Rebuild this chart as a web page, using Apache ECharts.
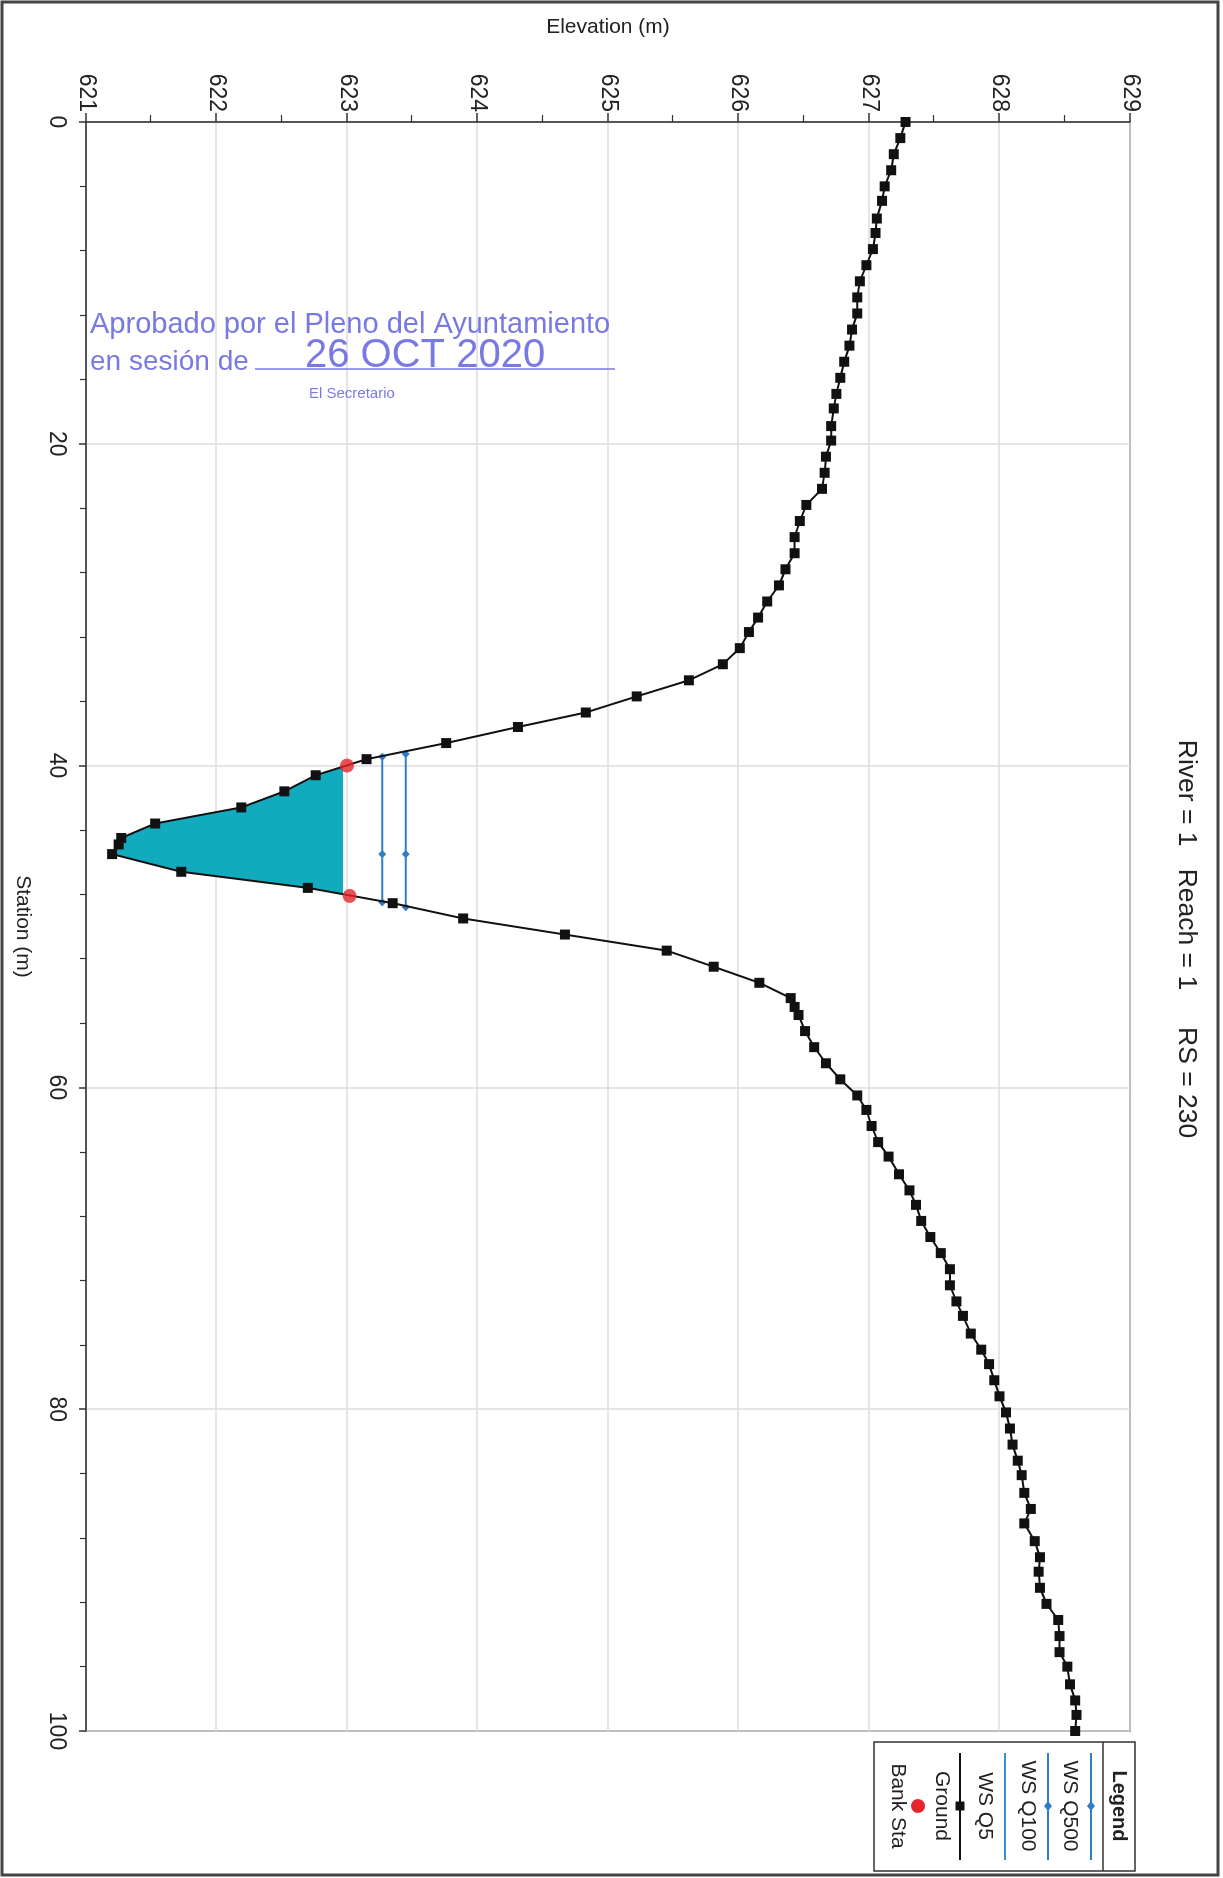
<!DOCTYPE html>
<html><head><meta charset="utf-8">
<script src="https://cdn.jsdelivr.net/npm/echarts@6/dist/echarts.min.js"></script>
<style>
html,body{margin:0;padding:0;background:#fff;width:1223px;height:1878px;overflow:hidden}
#rot{position:absolute;left:0;top:0;width:1878px;height:1223px;transform-origin:0 0;transform:translate(1223px,0) rotate(90deg);}
#chart{width:1878px;height:1223px}
</style></head><body>
<div id="rot"><div id="chart"></div></div>
<script>
// ---- data ----
const titleText = 'River = 1   Reach = 1     RS = 230';
const stationTicks = [0, 20, 40, 60, 80, 100];
const elevationTicks = [621, 622, 623, 624, 625, 626, 627, 628, 629];

const groundStation = [0.0,1.0,2.0,3.0,4.0,4.9,6.0,6.9,7.9,8.9,9.9,10.9,11.9,12.9,13.9,14.9,15.9,16.9,17.8,18.9,19.8,20.8,21.8,22.8,23.8,24.8,25.8,26.8,27.8,28.8,29.8,30.8,31.7,32.7,33.7,34.7,35.7,36.7,37.6,38.6,39.6,40.6,41.6,42.6,43.6,44.5,44.9,45.5,46.6,47.6,48.55,49.5,50.5,51.5,52.5,53.5,54.45,55.0,55.5,56.5,57.5,58.5,59.5,60.5,61.4,62.4,63.4,64.3,65.4,66.4,67.3,68.3,69.3,70.3,71.3,72.3,73.3,74.2,75.3,76.3,77.2,78.2,79.2,80.2,81.2,82.2,83.2,84.1,85.2,86.2,87.1,88.2,89.2,90.1,91.1,92.1,93.1,94.1,95.1,96.0,97.1,98.1,99.0,100.0];
const groundElevation = [627.28,627.24,627.19,627.17,627.12,627.10,627.06,627.05,627.03,626.98,626.93,626.91,626.91,626.87,626.85,626.81,626.78,626.75,626.73,626.71,626.71,626.67,626.66,626.64,626.52,626.47,626.43,626.43,626.36,626.31,626.22,626.15,626.08,626.01,625.88,625.62,625.22,624.83,624.31,623.76,623.15,622.76,622.52,622.19,621.53,621.27,621.25,621.20,621.73,622.70,623.35,623.89,624.67,625.45,625.81,626.16,626.40,626.43,626.46,626.51,626.58,626.67,626.78,626.91,626.98,627.02,627.07,627.15,627.23,627.31,627.36,627.40,627.47,627.55,627.62,627.62,627.67,627.72,627.78,627.86,627.92,627.96,628.00,628.05,628.08,628.10,628.14,628.17,628.19,628.24,628.19,628.27,628.31,628.30,628.31,628.36,628.45,628.46,628.46,628.52,628.54,628.58,628.59,628.58];

const wsQ5Elevation = 622.97;
const wsQ5Station = [40.06, 48.0];
const wsQ100Elevation = 623.27;
const wsQ100Station = [39.45, 45.5, 48.5];
const wsQ500Elevation = 623.45;
const wsQ500Station = [39.28, 45.5, 48.8];
const bankStation = [40.0, 48.1];
const bankElevation = [623.0, 623.02];

const legendNames = ['WS Q500', 'WS Q100', 'WS Q5', 'Ground', 'Bank Sta'];
const stampLines = ['Aprobado por el Pleno del Ayuntamiento', 'en sesión de', '26 OCT 2020', 'El Secretario'];

// ---- build ----
const FONT = '"Liberation Sans", Arial, Helvetica, sans-serif';
const TXT = '#222';
const WSBLUE = '#2f7fc8';
const ground = groundStation.map((s, i) => [s, groundElevation[i]]);
const q5Fill = [[wsQ5Station[0], wsQ5Elevation]]
  .concat(ground.filter(p => p[0] > wsQ5Station[0] && p[0] < wsQ5Station[1]))
  .concat([[wsQ5Station[1], wsQ5Elevation]]);
const q100 = wsQ100Station.map(s => [s, wsQ100Elevation]);
const q500 = wsQ500Station.map(s => [s, wsQ500Elevation]);
const banks = bankStation.map((s, i) => [s, bankElevation[i]]);

const chart = echarts.init(document.getElementById('chart'), null, {renderer: 'canvas', width: 1878, height: 1223});

function diamond(cx, cy, r, color) {
  return {type: 'polygon', shape: {points: [[cx - r, cy], [cx, cy - r * 0.8], [cx + r, cy], [cx, cy + r * 0.8]]}, style: {fill: color}, silent: true, z: 102};
}
const LX = 1806;
const legendLineY = [132, 175, 218, 263, 305];
const legendTextY = [153, 195, 238, 281, 325];
const legendGraphics = [
  {type: 'rect', shape: {x: 1742, y: 88, width: 129, height: 261}, style: {fill: '#fff', stroke: '#333', lineWidth: 1.5}, silent: true, z: 100},
  {type: 'line', shape: {x1: 1742, y1: 120, x2: 1871, y2: 120}, style: {stroke: '#333', lineWidth: 1.5}, silent: true, z: 101},
  {type: 'text', x: LX, y: 104, style: {text: 'Legend', font: 'bold 20px ' + FONT, fill: TXT, align: 'center', verticalAlign: 'middle', textAlign: 'center', textVerticalAlign: 'middle'}, silent: true, z: 101},
  {type: 'line', shape: {x1: 1753, y1: legendLineY[0], x2: 1860, y2: legendLineY[0]}, style: {stroke: WSBLUE, lineWidth: 2}, silent: true, z: 101},
  diamond(LX, legendLineY[0], 5, WSBLUE),
  {type: 'line', shape: {x1: 1753, y1: legendLineY[1], x2: 1860, y2: legendLineY[1]}, style: {stroke: WSBLUE, lineWidth: 2}, silent: true, z: 101},
  diamond(LX, legendLineY[1], 5, WSBLUE),
  {type: 'line', shape: {x1: 1753, y1: legendLineY[2], x2: 1860, y2: legendLineY[2]}, style: {stroke: '#3a90cc', lineWidth: 2}, silent: true, z: 101},
  {type: 'line', shape: {x1: 1753, y1: legendLineY[3], x2: 1860, y2: legendLineY[3]}, style: {stroke: '#111', lineWidth: 2}, silent: true, z: 101},
  {type: 'rect', shape: {x: LX - 4.5, y: legendLineY[3] - 4.5, width: 9, height: 9}, style: {fill: '#111'}, silent: true, z: 102},
  {type: 'circle', shape: {cx: LX, cy: legendLineY[4], r: 7}, style: {fill: '#e5252b'}, silent: true, z: 102}
];
legendNames.forEach((n, i) => {
  legendGraphics.push({type: 'text', x: LX, y: legendTextY[i], style: {text: n, font: '21px ' + FONT, fill: TXT, align: 'center', verticalAlign: 'middle', textAlign: 'center', textVerticalAlign: 'middle'}, silent: true, z: 101});
});

const STAMP = 'rgba(98,98,222,0.85)';
function stampText(txt, refX, refY, size) {
  return {type: 'text', x: refY, y: 1223 - refX, rotation: Math.PI / 2,
    style: {text: txt, font: size + 'px ' + FONT, fill: STAMP, align: 'left', verticalAlign: 'middle', textAlign: 'left', textVerticalAlign: 'middle'}, silent: true, z: 120};
}
const stampGraphics = [
  stampText(stampLines[0], 90, 325, 29),
  stampText(stampLines[1], 90, 362, 28),
  stampText(stampLines[2], 305, 356, 40),
  stampText(stampLines[3], 309, 394, 15),
  {type: 'line', shape: {x1: 369, y1: 1223 - 255, x2: 369, y2: 1223 - 615}, style: {stroke: STAMP, lineWidth: 1.5}, silent: true, z: 120}
];

const option = {
  animation: false,
  backgroundColor: '#fff',
  title: {text: titleText, left: 'center', top: 18, textStyle: {fontSize: 26.5, fontWeight: 'normal', color: TXT, fontFamily: FONT}},
  grid: {left: 122, right: 147, top: 93, bottom: 86, show: true, borderColor: '#333', borderWidth: 1.5, backgroundColor: 'transparent'},
  xAxis: {
    type: 'value', min: stationTicks[0], max: stationTicks[stationTicks.length - 1], interval: stationTicks[1] - stationTicks[0],
    name: 'Station (m)', nameLocation: 'middle', nameGap: 53,
    nameTextStyle: {fontSize: 21, color: TXT, fontFamily: FONT},
    axisLine: {lineStyle: {color: '#333', width: 1.5}},
    axisTick: {length: 7, lineStyle: {color: '#333', width: 1.5}},
    minorTick: {show: true, splitNumber: 5, length: 6, lineStyle: {color: '#333', width: 1.2}},
    axisLabel: {fontSize: 23, color: TXT, margin: 18, fontFamily: FONT},
    splitLine: {show: true, lineStyle: {color: '#dddddd', width: 1.5}}
  },
  yAxis: {
    type: 'value', min: elevationTicks[0], max: elevationTicks[elevationTicks.length - 1], interval: elevationTicks[1] - elevationTicks[0],
    name: 'Elevation (m)', nameLocation: 'middle', nameGap: 84, nameRotate: 90,
    nameTextStyle: {fontSize: 21, color: TXT, fontFamily: FONT},
    axisLine: {lineStyle: {color: '#333', width: 1.5}},
    axisTick: {length: 9, lineStyle: {color: '#333', width: 1.5}},
    minorTick: {show: true, splitNumber: 2, length: 7, lineStyle: {color: '#333', width: 1.2}},
    axisLabel: {fontSize: 23, color: TXT, margin: 10, fontFamily: FONT},
    splitLine: {show: true, lineStyle: {color: '#dddddd', width: 1.5}}
  },
  series: [
    {name: 'WS Q5', type: 'line', data: q5Fill, symbol: 'none', lineStyle: {width: 0}, areaStyle: {origin: wsQ5Elevation, color: '#12abbd', opacity: 1}, z: 2, silent: true},
    {name: 'WS Q500', type: 'line', data: q500, symbol: 'diamond', symbolSize: 8, itemStyle: {color: WSBLUE}, lineStyle: {color: WSBLUE, width: 2}, z: 3},
    {name: 'WS Q100', type: 'line', data: q100, symbol: 'diamond', symbolSize: 8, itemStyle: {color: WSBLUE}, lineStyle: {color: WSBLUE, width: 2}, z: 3},
    {name: 'Ground', type: 'line', data: ground, symbol: 'rect', symbolSize: 10, showAllSymbol: true, itemStyle: {color: '#111'}, lineStyle: {color: '#111', width: 2}, z: 4},
    {name: 'Bank Sta', type: 'scatter', data: banks, symbol: 'circle', symbolSize: 14, itemStyle: {color: '#e5252b'}, z: 5}
  ],
  graphic: [
    {type: 'rect', shape: {x: 2, y: 5, width: 1873, height: 1216}, style: {fill: 'transparent', stroke: '#444', lineWidth: 3}, silent: true, z: 99}
  ].concat(legendGraphics).concat(stampGraphics)
};
chart.setOption(option);
</script>
</body></html>
